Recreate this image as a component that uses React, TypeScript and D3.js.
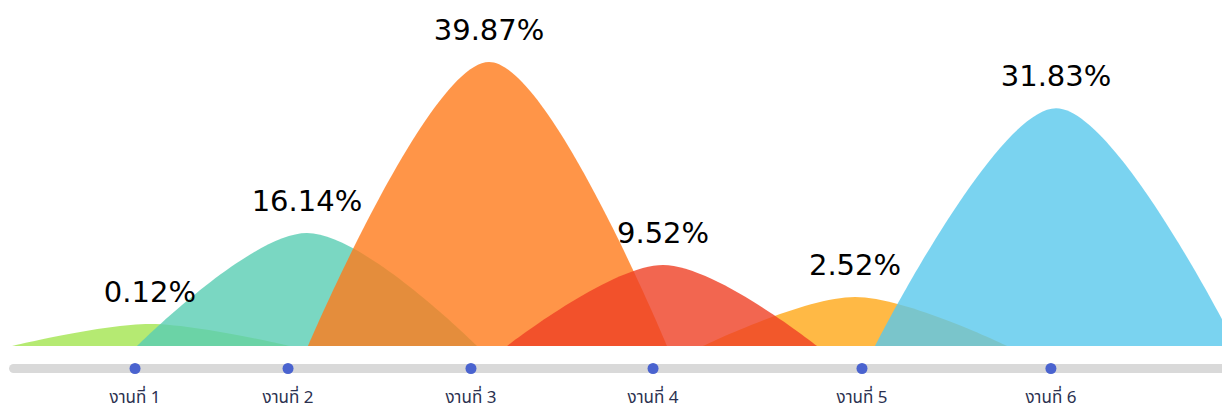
import { useEffect, useRef } from "react";
import * as d3 from "d3";

// tasks along the timeline
const categories = ["งานที่ 1", "งานที่ 2", "งานที่ 3", "งานที่ 4", "งานที่ 5", "งานที่ 6"];
// share of each task (label text)
const shares = [0.12, 16.14, 39.87, 9.52, 2.52, 31.83];
// height of each bump, in chart units
const peakHeights = [3.1, 15.9, 40, 11.4, 6.9, 33.5];
// positions on the track (0-100)
const dotPos = [11.05, 23.57, 38.54, 53.44, 70.54, 86.0];
const startPos = [0.98, 11.21, 25.2, 41.49, 57.53, 71.6];
const peakPos = [12.27, 25.12, 40.02, 54.26, 69.97, 86.42];
const endPos = [23.73, 39.03, 54.58, 66.86, 82.41, 101.15];
const colors = ["#a2e54f", "#59cdb3", "#ff7a1a", "#ef4024", "#ffa716", "#59c8ec"];
// paint order (later ones on top)
const drawOrder = [0, 1, 2, 4, 3, 5];

const width = 1222;
const height = 409;

const App = () => {
    const svgRef = useRef<SVGSVGElement>(null);

    useEffect(() => {
        const svg = d3.select(svgRef.current);
        svg.selectAll("*").remove();

        const baseline = 346;
        const x = d3.scaleLinear().domain([0, 100]).range([0, width]);
        const y = d3.scaleLinear().domain([0, 40]).range([baseline, 62]);

        const line = d3.line<[number, number]>()
            .x(d => x(d[0]))
            .y(d => y(d[1]))
            .curve(d3.curveCardinal.tension(0));

        const g = svg.append("g");

        drawOrder.forEach(i => {
            const pts: [number, number][] = [
                [startPos[i], 0],
                [peakPos[i], peakHeights[i]],
                [endPos[i], 0],
            ];
            g.append("path")
                .attr("d", line(pts) + "Z")
                .attr("fill", colors[i])
                .attr("fill-opacity", 0.8);
        });

        // percent labels
        g.selectAll("text.pct")
            .data(shares)
            .enter()
            .append("text")
            .attr("class", "pct")
            .attr("x", (d, i) => x(peakPos[i]))
            .attr("y", (d, i) => y(peakHeights[i]) - 22)
            .attr("text-anchor", "middle")
            .attr("font-family", "DejaVu Sans, sans-serif")
            .attr("font-size", 29)
            .attr("fill", "#000")
            .text(d => d.toFixed(2) + "%");

        // timeline track
        const trackY = 368.5;
        svg.append("rect")
            .attr("x", x(0.74))
            .attr("y", trackY - 4.5)
            .attr("width", width)
            .attr("height", 9)
            .attr("rx", 4.5)
            .attr("fill", "#d9d9d9");

        svg.selectAll("circle")
            .data(dotPos)
            .enter()
            .append("circle")
            .attr("cx", d => x(d))
            .attr("cy", trackY)
            .attr("r", 5.5)
            .attr("fill", "#4a63cf");

        svg.selectAll("text.cat")
            .data(categories)
            .enter()
            .append("text")
            .attr("class", "cat")
            .attr("x", (d, i) => x(dotPos[i]))
            .attr("y", 403)
            .attr("text-anchor", "middle")
            .attr("font-family", "Noto Sans Thai, Noto Sans, sans-serif")
            .attr("font-size", 17)
            .attr("fill", "#2b3150")
            .text(d => d);
    }, []);

    return (
        <svg
            ref={svgRef}
            width={width}
            height={height}
            style={{ position: "absolute", left: 0, top: 0, overflow: "hidden" }}
        ></svg>
    );
};

export default App;
